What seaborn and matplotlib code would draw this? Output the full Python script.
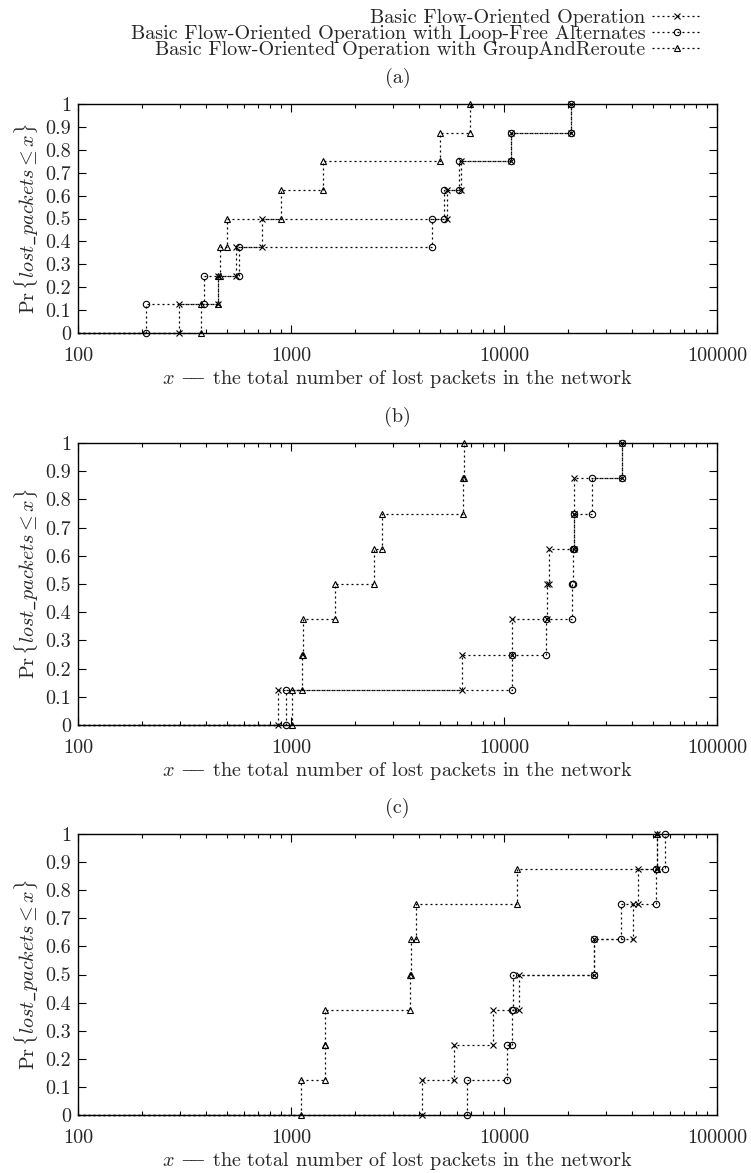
import numpy as np
import pandas as pd
import matplotlib
matplotlib.use("Agg")
import matplotlib.pyplot as plt
from matplotlib.lines import Line2D
from matplotlib.ticker import FixedLocator, LogLocator, FuncFormatter, NullFormatter
import seaborn as sns

# schemes compared
scheme_names = [
    "Basic Flow-Oriented Operation",
    "Basic Flow-Oriented Operation with Loop-Free Alternates",
    "Basic Flow-Oriented Operation with GroupAndReroute",
]
scheme_markers = ["x", "o", "^"]
panel_titles = ["(a)", "(b)", "(c)"]

# lost packets per run (8 runs each), sorted
a_basic = [297, 455, 549, 728, 5400, 6300, 10750, 20700]
a_lfa = [208, 391, 571, 4585, 5220, 6120, 10750, 20700]
a_gar = [378, 455, 462, 503, 893, 1419, 4980, 6900]

b_basic = [870, 6370, 10870, 16000, 16300, 21300, 21400, 35700]
b_lfa = [950, 10870, 15750, 20800, 21000, 21300, 26000, 35700]
b_gar = [1010, 1130, 1140, 1615, 2450, 2680, 6400, 6500]

c_basic = [4100, 5850, 8910, 11770, 26500, 40300, 42800, 52000]
c_lfa = [6670, 10370, 10860, 11060, 26500, 35500, 51600, 57100]
c_gar = [1110, 1442, 1450, 3620, 3650, 3860, 11550, 52500]

panels = [
    [a_basic, a_lfa, a_gar],
    [b_basic, b_lfa, b_gar],
    [c_basic, c_lfa, c_gar],
]


def cdf_frame(vals):
    # staircase vertices: (x_i, (i-1)/n) -> (x_i, i/n)
    n = len(vals)
    xs = np.repeat(vals, 2)
    ys = np.repeat(np.arange(n + 1) / n, 2)[1:-1]
    return pd.DataFrame({"packets": xs, "cdf": ys})


sns.set_style("ticks")
plt.rcParams["font.family"] = ["cmr10", "DejaVu Serif"]
plt.rcParams["mathtext.fontset"] = "cm"
plt.rcParams["axes.formatter.use_mathtext"] = True
plt.rcParams["font.size"] = 14.5
plt.rcParams["axes.unicode_minus"] = False

W, H = 751, 1173
fig = plt.figure(figsize=(W / 100, H / 100), dpi=100)

# axes boxes in pixels: (top, bottom)
boxes = [(104, 333), (443, 725), (834, 1115)]
left_px, right_px = 78, 717

dash = (1.6, 2.4)
line_kw = dict(color="black", lw=0.9, linestyle=(0, dash), ms=4.6,
               mfc="none", mec="black", mew=0.8)

# em dash built from two overlapping math minus signs (cmr10 lacks it)
xlabel = r"$x$ ${-}\!\!{-}$ the total number of lost packets in the network"

for (top, bottom), series, title in zip(boxes, panels, panel_titles):
    ax = fig.add_axes([left_px / W, 1 - bottom / H,
                       (right_px - left_px) / W, (bottom - top) / H])
    ax.set_xscale("log")
    ax.set_xlim(100, 100000)
    ax.set_ylim(0, 1)
    for vals, mk in zip(series, scheme_markers):
        # lead-in along zero up to the first run
        ax.plot([ax.get_xlim()[0], vals[0]], [0, 0], color="black",
                lw=0.9, linestyle=(0, dash), clip_on=False)
        sns.lineplot(data=cdf_frame(vals), x="packets", y="cdf",
                     sort=False, estimator=None, ax=ax, marker=mk,
                     clip_on=False, **line_kw)
    ax.set_xlim(100, 100000)
    ax.set_ylim(0, 1)
    ax.xaxis.set_major_locator(FixedLocator([100, 1000, 10000, 100000]))
    ax.xaxis.set_minor_locator(LogLocator(base=10, subs=np.arange(2, 10)))
    ax.xaxis.set_major_formatter(FuncFormatter(lambda v, _: f"{int(round(v))}"))
    ax.xaxis.set_minor_formatter(NullFormatter())
    ax.yaxis.set_major_locator(FixedLocator(np.linspace(0, 1, 11)))
    ax.yaxis.set_major_formatter(FuncFormatter(lambda v, _: f"{round(v, 1):g}"))
    ax.tick_params(which="both", direction="in", top=True, right=True,
                   width=0.8, color="black", labelsize=14.5)
    ax.tick_params(axis="x", pad=10)
    ax.tick_params(axis="y", pad=5)
    ax.tick_params(which="major", length=6)
    ax.tick_params(which="minor", length=3)
    for s in ax.spines.values():
        s.set_linewidth(1.0)
        s.set_color("black")
    ax.set_title(title, fontsize=14.5, pad=15.5)
    ax.set_xlabel(xlabel, fontsize=14.5, labelpad=2)
    ax.set_ylabel(r"$\mathrm{Pr}\,\{lost\_packets \leq x\}$",
                  fontsize=14.5, labelpad=4)

handles = [Line2D([], [], marker=m, **line_kw) for m in scheme_markers]
fig.legend(handles, scheme_names, loc="upper right",
           bbox_to_anchor=(702 / W, 1 - 9 / H), frameon=False,
           markerfirst=False, numpoints=1, handlelength=2.5,
           handletextpad=0.3, labelspacing=-0.1, borderpad=0,
           borderaxespad=0, fontsize=14.5)

fig.savefig("out.png", dpi=100)
